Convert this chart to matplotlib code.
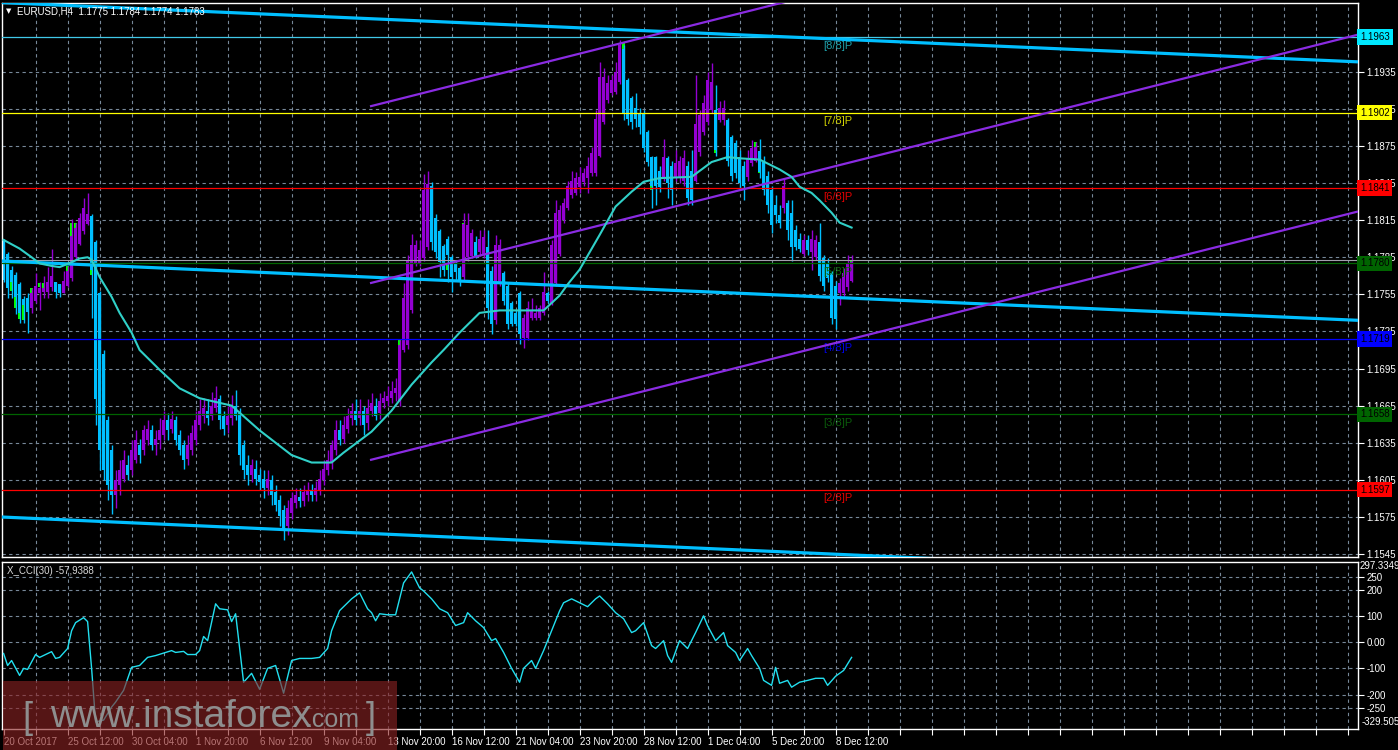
import numpy as np
import matplotlib.pyplot as plt
from matplotlib.patches import Rectangle

plt.rcParams['font.family'] = ['Liberation Sans', 'DejaVu Sans']

# EURUSD H4 candles (bar 0 = 20 Oct 2017)
bar_open = [
    1.1799, 1.1788, 1.1775, 1.1771, 1.1763, 1.1751, 1.1752, 1.1744, 1.1750, 1.1756,
    1.1757, 1.1757, 1.1761, 1.1765, 1.1763, 1.1756, 1.1762, 1.1768, 1.1785, 1.1796,
    1.1806, 1.1812, 1.1818, 1.1797, 1.1756, 1.1707, 1.1653, 1.1629, 1.1593, 1.1601,
    1.1606, 1.1617, 1.1613, 1.1621, 1.1633, 1.1629, 1.1637, 1.1645, 1.1633, 1.1637,
    1.1641, 1.1653, 1.1646, 1.1653, 1.1641, 1.1633, 1.1622, 1.1629, 1.1637, 1.1649,
    1.1657, 1.1661, 1.1657, 1.1663, 1.1670, 1.1657, 1.1649, 1.1655, 1.1665, 1.1659,
    1.1633, 1.1617, 1.1609, 1.1614, 1.1609, 1.1606, 1.1598, 1.1605, 1.1595, 1.1589,
    1.1581, 1.1568, 1.1578, 1.1586, 1.1591, 1.1588, 1.1593, 1.1597, 1.1593, 1.1597,
    1.1605, 1.1613, 1.1619, 1.1629, 1.1645, 1.1638, 1.1646, 1.1655, 1.1661, 1.1655,
    1.1661, 1.1651, 1.1661, 1.1665, 1.1659, 1.1667, 1.1669, 1.1671, 1.1675, 1.1669,
    1.1710, 1.1714, 1.1742, 1.1780, 1.1780, 1.1784, 1.1793, 1.1843, 1.1817, 1.1806,
    1.1794, 1.1800, 1.1785, 1.1780, 1.1776, 1.1769, 1.1785, 1.1786, 1.1797, 1.1789,
    1.1788, 1.1793, 1.1774, 1.1734, 1.1764, 1.1772, 1.1762, 1.1748, 1.1740, 1.1756,
    1.1720, 1.1720, 1.1736, 1.1736, 1.1736, 1.1740, 1.1756, 1.1748, 1.1764, 1.1788,
    1.1815, 1.1825, 1.1835, 1.1837, 1.1842, 1.1846, 1.1849, 1.1853, 1.1853, 1.1867,
    1.1894, 1.1912, 1.1918, 1.1919, 1.1927, 1.1953, 1.1928, 1.1914, 1.1906, 1.1902,
    1.1902, 1.1886, 1.1866, 1.1866, 1.1855, 1.1850, 1.1865, 1.1859, 1.1850, 1.1849,
    1.1847, 1.1859, 1.1855, 1.1847, 1.1870, 1.1886, 1.1894, 1.1904, 1.1904, 1.1896,
    1.1896, 1.1896, 1.1882, 1.1877, 1.1866, 1.1859, 1.1850, 1.1861, 1.1863, 1.1871,
    1.1863, 1.1851, 1.1839, 1.1827, 1.1819, 1.1825, 1.1829, 1.1821, 1.1807, 1.1800,
    1.1788, 1.1799, 1.1789, 1.1785, 1.1797, 1.1784, 1.1780, 1.1772, 1.1762, 1.1756,
    1.1756, 1.1761, 1.1766,
]
bar_close = [
    1.1767, 1.1760, 1.1765, 1.1753, 1.1740, 1.1746, 1.1741, 1.1756, 1.1762, 1.1760,
    1.1760, 1.1765, 1.1770, 1.1757, 1.1756, 1.1766, 1.1774, 1.1802, 1.1809, 1.1817,
    1.1825, 1.1820, 1.1775, 1.1670, 1.1629, 1.1613, 1.1601, 1.1593, 1.1605, 1.1613,
    1.1621, 1.1609, 1.1629, 1.1637, 1.1625, 1.1645, 1.1646, 1.1633, 1.1638, 1.1645,
    1.1653, 1.1645, 1.1654, 1.1637, 1.1629, 1.1621, 1.1633, 1.1643, 1.1653, 1.1661,
    1.1663, 1.1655, 1.1665, 1.1671, 1.1653, 1.1646, 1.1657, 1.1665, 1.1657, 1.1625,
    1.1613, 1.1609, 1.1617, 1.1606, 1.1603, 1.1598, 1.1606, 1.1593, 1.1585, 1.1576,
    1.1565, 1.1582, 1.1590, 1.1593, 1.1588, 1.1595, 1.1597, 1.1593, 1.1598, 1.1606,
    1.1614, 1.1621, 1.1633, 1.1645, 1.1637, 1.1649, 1.1657, 1.1661, 1.1653, 1.1661,
    1.1649, 1.1663, 1.1667, 1.1657, 1.1669, 1.1671, 1.1673, 1.1677, 1.1679, 1.1714,
    1.1752, 1.1782, 1.1795, 1.1795, 1.1791, 1.1839, 1.1844, 1.1797, 1.1789, 1.1781,
    1.1775, 1.1787, 1.1769, 1.1773, 1.1766, 1.1812, 1.1811, 1.1805, 1.1786, 1.1800,
    1.1801, 1.1744, 1.1731, 1.1795, 1.1795, 1.1750, 1.1731, 1.1731, 1.1731, 1.1723,
    1.1736, 1.1744, 1.1742, 1.1740, 1.1744, 1.1757, 1.1750, 1.1795, 1.1821, 1.1823,
    1.1829, 1.1843, 1.1847, 1.1849, 1.1850, 1.1853, 1.1859, 1.1869, 1.1897, 1.1931,
    1.1931, 1.1926, 1.1928, 1.1935, 1.1957, 1.1901, 1.1897, 1.1894, 1.1897, 1.1890,
    1.1873, 1.1862, 1.1843, 1.1843, 1.1842, 1.1866, 1.1845, 1.1839, 1.1861, 1.1863,
    1.1865, 1.1833, 1.1831, 1.1893, 1.1900, 1.1910, 1.1928, 1.1927, 1.1872, 1.1906,
    1.1906, 1.1863, 1.1851, 1.1853, 1.1845, 1.1843, 1.1865, 1.1873, 1.1874, 1.1854,
    1.1839, 1.1827, 1.1811, 1.1819, 1.1813, 1.1843, 1.1807, 1.1793, 1.1793, 1.1792,
    1.1799, 1.1791, 1.1800, 1.1799, 1.1770, 1.1762, 1.1768, 1.1736, 1.1735, 1.1764,
    1.1772, 1.1780, 1.1781,
]
bar_high = [
    1.1800, 1.1789, 1.1778, 1.1773, 1.1765, 1.1754, 1.1756, 1.1760, 1.1772, 1.1765,
    1.1770, 1.1777, 1.1792, 1.1765, 1.1763, 1.1774, 1.1778, 1.1816, 1.1813, 1.1821,
    1.1833, 1.1837, 1.1820, 1.1799, 1.1758, 1.1710, 1.1657, 1.1633, 1.1613, 1.1621,
    1.1629, 1.1625, 1.1637, 1.1645, 1.1638, 1.1649, 1.1653, 1.1649, 1.1645, 1.1655,
    1.1661, 1.1659, 1.1661, 1.1657, 1.1645, 1.1637, 1.1641, 1.1649, 1.1661, 1.1670,
    1.1671, 1.1670, 1.1676, 1.1681, 1.1674, 1.1661, 1.1665, 1.1674, 1.1678, 1.1663,
    1.1637, 1.1625, 1.1622, 1.1621, 1.1614, 1.1613, 1.1613, 1.1609, 1.1601, 1.1593,
    1.1585, 1.1589, 1.1595, 1.1598, 1.1598, 1.1601, 1.1603, 1.1602, 1.1604, 1.1613,
    1.1621, 1.1629, 1.1637, 1.1653, 1.1653, 1.1657, 1.1663, 1.1667, 1.1670, 1.1670,
    1.1665, 1.1670, 1.1675, 1.1671, 1.1675, 1.1677, 1.1681, 1.1685, 1.1687, 1.1718,
    1.1764, 1.1787, 1.1804, 1.1799, 1.1799, 1.1852, 1.1855, 1.1846, 1.1820, 1.1808,
    1.1796, 1.1802, 1.1787, 1.1782, 1.1778, 1.1821, 1.1821, 1.1808, 1.1802, 1.1807,
    1.1807, 1.1807, 1.1778, 1.1803, 1.1800, 1.1774, 1.1764, 1.1750, 1.1742, 1.1758,
    1.1739, 1.1750, 1.1752, 1.1746, 1.1746, 1.1773, 1.1758, 1.1799, 1.1831, 1.1827,
    1.1833, 1.1847, 1.1855, 1.1854, 1.1858, 1.1857, 1.1866, 1.1874, 1.1904, 1.1943,
    1.1938, 1.1932, 1.1932, 1.1943, 1.1961, 1.1957, 1.1930, 1.1915, 1.1918, 1.1906,
    1.1904, 1.1888, 1.1867, 1.1867, 1.1859, 1.1881, 1.1867, 1.1863, 1.1872, 1.1867,
    1.1872, 1.1863, 1.1872, 1.1932, 1.1904, 1.1916, 1.1935, 1.1942, 1.1924, 1.1911,
    1.1912, 1.1898, 1.1884, 1.1880, 1.1872, 1.1863, 1.1872, 1.1880, 1.1878, 1.1881,
    1.1867, 1.1855, 1.1843, 1.1835, 1.1827, 1.1849, 1.1831, 1.1831, 1.1811, 1.1805,
    1.1803, 1.1803, 1.1807, 1.1803, 1.1813, 1.1787, 1.1784, 1.1774, 1.1766, 1.1768,
    1.1776, 1.1787, 1.1787,
]
bar_low = [
    1.1765, 1.1752, 1.1752, 1.1739, 1.1732, 1.1732, 1.1724, 1.1740, 1.1748, 1.1742,
    1.1752, 1.1752, 1.1758, 1.1752, 1.1753, 1.1756, 1.1761, 1.1766, 1.1783, 1.1795,
    1.1804, 1.1811, 1.1736, 1.1649, 1.1613, 1.1605, 1.1589, 1.1577, 1.1582, 1.1593,
    1.1603, 1.1605, 1.1609, 1.1619, 1.1619, 1.1625, 1.1633, 1.1629, 1.1625, 1.1630,
    1.1637, 1.1637, 1.1643, 1.1633, 1.1625, 1.1614, 1.1617, 1.1625, 1.1633, 1.1645,
    1.1651, 1.1649, 1.1653, 1.1660, 1.1646, 1.1641, 1.1643, 1.1649, 1.1653, 1.1617,
    1.1606, 1.1601, 1.1603, 1.1601, 1.1597, 1.1590, 1.1593, 1.1585, 1.1580, 1.1568,
    1.1556, 1.1560, 1.1573, 1.1582, 1.1583, 1.1584, 1.1588, 1.1588, 1.1588, 1.1593,
    1.1601, 1.1609, 1.1614, 1.1625, 1.1633, 1.1635, 1.1643, 1.1649, 1.1649, 1.1649,
    1.1641, 1.1645, 1.1657, 1.1653, 1.1654, 1.1663, 1.1665, 1.1667, 1.1669, 1.1665,
    1.1708, 1.1711, 1.1740, 1.1778, 1.1778, 1.1782, 1.1791, 1.1791, 1.1784, 1.1769,
    1.1770, 1.1765, 1.1757, 1.1766, 1.1762, 1.1766, 1.1782, 1.1784, 1.1784, 1.1786,
    1.1784, 1.1735, 1.1723, 1.1731, 1.1762, 1.1746, 1.1727, 1.1729, 1.1729, 1.1715,
    1.1712, 1.1718, 1.1734, 1.1734, 1.1734, 1.1738, 1.1748, 1.1746, 1.1762, 1.1786,
    1.1813, 1.1823, 1.1833, 1.1835, 1.1837, 1.1843, 1.1837, 1.1851, 1.1851, 1.1866,
    1.1893, 1.1910, 1.1916, 1.1917, 1.1925, 1.1896, 1.1892, 1.1889, 1.1890, 1.1885,
    1.1870, 1.1859, 1.1825, 1.1827, 1.1838, 1.1847, 1.1833, 1.1827, 1.1847, 1.1845,
    1.1843, 1.1827, 1.1827, 1.1846, 1.1867, 1.1884, 1.1892, 1.1902, 1.1867, 1.1894,
    1.1892, 1.1859, 1.1847, 1.1849, 1.1839, 1.1831, 1.1847, 1.1859, 1.1862, 1.1849,
    1.1835, 1.1821, 1.1805, 1.1813, 1.1809, 1.1821, 1.1799, 1.1782, 1.1791, 1.1789,
    1.1786, 1.1787, 1.1775, 1.1783, 1.1766, 1.1758, 1.1765, 1.1731, 1.1727, 1.1746,
    1.1753, 1.1758, 1.1765,
]

# lime parts of the underlying candles that show past the coloured bodies
lime_bar = [2, 3, 4, 5, 7, 9, 10, 15, 16, 17, 18, 19, 20, 21, 22, 23, 99, 100, 101, 103,
            105, 111, 115, 116, 117, 119, 120, 121, 126, 128, 130, 134, 136, 137, 138,
            139, 141, 143, 147, 148, 151, 154, 155, 157, 159, 161, 162, 175, 176, 178,
            179, 180, 188, 189, 195, 199, 200, 202, 204, 207, 208, 212]
lime_lo = [1.1758, 1.1744, 1.1735, 1.1734, 1.1756, 1.1761, 1.1760, 1.1756, 1.1774, 1.1802,
           1.1809, 1.1813, 1.1820, 1.1813, 1.1771, 1.1694, 1.1710, 1.1744, 1.1771, 1.1793,
           1.1827, 1.1775, 1.1804, 1.1807, 1.1799, 1.1789, 1.1793, 1.1744, 1.1731, 1.1731,
           1.1720, 1.1741, 1.1750, 1.1785, 1.1807, 1.1821, 1.1833, 1.1843, 1.1859, 1.1883,
           1.1920, 1.1949, 1.1918, 1.1894, 1.1890, 1.1869, 1.1839, 1.1902, 1.1916, 1.1869,
           1.1902, 1.1902, 1.1874, 1.1853, 1.1835, 1.1792, 1.1794, 1.1793, 1.1770, 1.1736,
           1.1736, 1.1780]
lime_hi = [1.1765, 1.1753, 1.1740, 1.1746, 1.1760, 1.1764, 1.1764, 1.1761, 1.1778, 1.1813,
           1.1813, 1.1817, 1.1825, 1.1820, 1.1775, 1.1716, 1.1718, 1.1752, 1.1783, 1.1795,
           1.1839, 1.1779, 1.1813, 1.1811, 1.1805, 1.1800, 1.1801, 1.1753, 1.1736, 1.1740,
           1.1736, 1.1744, 1.1756, 1.1795, 1.1821, 1.1823, 1.1839, 1.1849, 1.1869, 1.1897,
           1.1926, 1.1957, 1.1958, 1.1898, 1.1902, 1.1877, 1.1845, 1.1910, 1.1928, 1.1880,
           1.1906, 1.1906, 1.1878, 1.1863, 1.1842, 1.1796, 1.1799, 1.1799, 1.1778, 1.1753,
           1.1754, 1.1783]

# moving average (turquoise line), sampled at these bars
ma_bar = [0, 4, 7, 9, 12, 14, 17, 19, 21, 22, 24, 27, 29, 32, 34, 39, 44, 49, 57, 64,
          72, 77, 82, 85, 92, 97, 102, 107, 110, 114, 119, 124, 135, 139, 141, 144,
          149, 153, 157, 160, 164, 172, 177, 181, 184, 189, 194, 197, 199, 202, 204,
          207, 209, 212]
ma_val = [1.1799, 1.1792, 1.1785, 1.1780, 1.1778, 1.1777, 1.1781, 1.1784, 1.1785, 1.1783,
          1.1769, 1.1753, 1.1740, 1.1724, 1.1710, 1.1694, 1.1679, 1.1671, 1.1665, 1.1645,
          1.1625, 1.1619, 1.1619, 1.1627, 1.1644, 1.1661, 1.1682, 1.1700, 1.1710, 1.1724,
          1.1740, 1.1742, 1.1742, 1.1754, 1.1763, 1.1775, 1.1803, 1.1826, 1.1838, 1.1846,
          1.1849, 1.1850, 1.1862, 1.1866, 1.1865, 1.1864, 1.1856, 1.1850, 1.1842, 1.1837,
          1.1831, 1.1821, 1.1813, 1.1809]

# X_CCI(30)
cci_bar = [0, 1, 2, 4, 5, 6, 8, 9, 12, 13, 14, 16, 17, 18, 20, 21, 22, 23, 25, 27,
           28, 30, 32, 34, 36, 38, 42, 43, 45, 46, 48, 49, 50, 51, 53, 54, 56, 57, 58, 60,
           62, 64, 66, 68, 70, 72, 74, 77, 79, 81, 82, 84, 87, 89, 91, 92, 93, 94, 96, 98,
           100, 102, 104, 105, 107, 109, 111, 113, 115, 116, 118, 120, 122, 123, 125, 127,
           129, 130, 132, 133, 135, 137, 139, 140, 142, 144, 146, 148, 149, 151, 153, 155,
           157, 158, 160, 162, 163, 165, 166, 167, 169, 171, 173, 175, 176, 178, 180, 181,
           183, 184, 186, 187, 189, 190, 192, 193, 194, 196, 197, 199, 201, 203, 205, 206,
           208, 210, 212]
cci_val = [-43, -89, -70, -127, -100, -104, -47, -58, -36, -62, -58, -24, 44, 75, 94, 79,
           -100, -305, -298, -248, -229, -184, -96, -89, -58, -51, -32, -39, -35, -47, -47,
           -32, 22, 6, 147, 128, 124, 79, 109, -153, -119, -180, -100, -89, -195, -70, -62,
           -62, -58, -24, 44, 121, 166, 189, 128, 113, 82, 109, 105, 105, 227, 269, 208,
           196, 166, 128, 113, 64, 75, 113, 82, 56, 6, 14, -39, -100, -153, -100, -70,
           -100, -32, 44, 120, 151, 166, 151, 136, 166, 177, 147, 113, 90, 37, 44, 75, -13,
           -24, 6, -51, -77, 6, -24, 37, 101, 63, 6, 37, -13, -39, -70, -24, -51, -100,
           -146, -165, -96, -157, -146, -172, -153, -146, -138, -138, -165, -130, -108, -58]

# Murrey math levels
murrey_level = [1.1963, 1.1902, 1.1841, 1.1780, 1.1719, 1.1658, 1.1597]
murrey_name = ['[8/8]P', '[7/8]P', '[6/8]P', '[5/8]P', '[4/8]P', '[3/8]P', '[2/8]P']
murrey_line = ['#40c8e8', '#ffff00', '#ff0000', '#006400', '#0000ff', '#006400', '#ff0000']
murrey_box = ['#00e8ff', '#ffff00', '#ff0000', '#006400', '#0000ff', '#006400', '#ff0000']
murrey_text = ['#1e9ea8', '#d0d000', '#e00000', '#0b6b0b', '#0000e0', '#0b5b0b', '#e00000']
bid_price = 1.1783

# hand-drawn channels (bar, price at both ends)
blue_x = [-0.9, 338.6]
blue_top = [1.1991, 1.1943]
blue_mid = [1.1782, 1.1734]
blue_low = [1.1575, 1.1526]
violet_x = [91.6, 338.6]
violet_top = [1.1907, 1.2108]
violet_mid = [1.1764, 1.1965]
violet_low = [1.1621, 1.1822]

price_ticks = [1.1545, 1.1575, 1.1605, 1.1635, 1.1665, 1.1695, 1.1725, 1.1755,
               1.1785, 1.1815, 1.1845, 1.1875, 1.1905, 1.1935]
cci_ticks = [250, 200, 100, 0, -100, -200, -250]
cci_tick_labels = ['250', '200', '100', '0.00', '-100', '-200', '-250']
date_labels = ['20 Oct 2017', '25 Oct 12:00', '30 Oct 04:00', '1 Nov 20:00', '6 Nov 12:00',
               '9 Nov 04:00', '13 Nov 20:00', '16 Nov 12:00', '21 Nov 04:00',
               '23 Nov 20:00', '28 Nov 12:00', '1 Dec 04:00', '5 Dec 20:00', '8 Dec 12:00']

W, H = 1398, 750
fig = plt.figure(figsize=(W / 100, H / 100), dpi=100, facecolor='black')


def panel(left, top, right, bottom):
    a = fig.add_axes([left / W, 1 - bottom / H, (right - left) / W, (bottom - top) / H])
    a.set_facecolor('black')
    for s in a.spines.values():
        s.set_color('white')
        s.set_linewidth(1)
    a.set_xlim(-0.4, 338.6)
    return a


ax = panel(2, 3, 1358, 557)
ax2 = panel(2, 562, 1358, 729)
ax.set_ylim(1.15426, 1.19906)
ax2.set_ylim(-332, 307)

# dashed grid
grid_kw = dict(color='#778899', lw=0.8, dashes=(3, 3), zorder=1)
for v in range(8, 339, 8):
    ax.axvline(v, **grid_kw)
    ax2.axvline(v, **grid_kw)
for p in price_ticks:
    ax.axhline(p, **grid_kw)
for c in cci_ticks:
    ax2.axhline(c, **grid_kw)

# candles: lime underneath, then the violet / blue ones
lo_l = np.array(lime_lo)
ax.bar(lime_bar, np.array(lime_hi) - lo_l, bottom=lo_l, width=0.75, color='#00ff00',
       lw=0, zorder=1.8)
o = np.array(bar_open)
c = np.array(bar_close)
xb = np.arange(len(c))
col = np.where(c >= o, '#9400d3', '#00bfff')
ax.vlines(xb, bar_low, bar_high, colors=col, lw=1, zorder=2)
ax.bar(xb, c - o, bottom=o, width=0.75, color=col, lw=0, zorder=2)

# levels
for lvl, lc, tc, name, bc in zip(murrey_level, murrey_line, murrey_text, murrey_name, murrey_box):
    ax.axhline(lvl, color=lc, lw=0.9, zorder=3)
    ax.text(208.6, lvl - 0.0003, name, color=tc, fontsize=8, ha='center', va='top', zorder=4)
    ax.text(1.0015, lvl, f'{lvl:.4f}', transform=ax.get_yaxis_transform(), color='black',
            fontsize=7, ha='left', va='center', clip_on=False, zorder=6,
            bbox=dict(boxstyle='square,pad=0.28', fc=bc, ec='none'))
ax.axhline(bid_price, color='#a0a0aa', lw=0.8, zorder=3)

# channels and MA
for yy in (blue_top, blue_mid, blue_low):
    ax.plot(blue_x, yy, color='#00bfff', lw=2.3, zorder=4, solid_capstyle='butt')
for yy in (violet_top, violet_mid, violet_low):
    ax.plot(violet_x, yy, color='#8a2be2', lw=1.6, zorder=4, solid_capstyle='butt')
ax.plot(ma_bar, ma_val, color='#30d0c8', lw=1.5, zorder=4)

ax.yaxis.tick_right()
ax.set_yticks(price_ticks)
ax.set_yticklabels([f'{p:.4f}' for p in price_ticks])
ax.tick_params(axis='y', colors='white', labelsize=7, length=4, width=0.8, pad=2)
ax.tick_params(axis='x', bottom=False, labelbottom=False)

# CCI panel
ax2.plot(cci_bar, cci_val, color='#22e0f0', lw=1, zorder=3)
ax2.yaxis.tick_right()
ax2.set_yticks(cci_ticks)
ax2.set_yticklabels(cci_tick_labels)
ax2.tick_params(axis='y', colors='white', labelsize=7, length=4, width=0.8, pad=2)
ax2.set_xticks(np.arange(0, 339, 8), minor=True)
ax2.set_xticks(np.arange(0, 16 * len(date_labels), 16))
ax2.set_xticklabels(date_labels, ha='left')
ax2.tick_params(axis='x', which='both', colors='white', labelsize=7, length=4, width=0.8, pad=2)


def ftext(x, y, s, **kw):
    return fig.text(x / W, 1 - y / H, s, **kw)


ftext(1360, 566, '297.3349', color='white', fontsize=7, va='center')
ftext(1362, 722, '-329.505', color='white', fontsize=7, va='center')
ftext(6, 11, '\u25bc', color='white', fontsize=5, va='center',
      family=['DejaVu Sans'])
ftext(17, 11, 'EURUSD,H4  1.1775 1.1784 1.1774 1.1783', color='white', fontsize=7, va='center')
ftext(7, 571, 'X_CCI(30) -57,9388', color='#d8d8d8', fontsize=7, va='center')

# watermark
fig.patches.append(Rectangle((3 / W, 0), 394 / W, 69 / H, transform=fig.transFigure,
                             facecolor='#8b2222', alpha=0.62, lw=0, zorder=10))
wm = dict(color='#8e8e8e', va='baseline', zorder=11)
ftext(22, 728, '[', fontsize=26, **wm)
ftext(50, 727, 'www.instaforex', fontsize=28, **wm)
ftext(306, 727, '.com', fontsize=18, **wm)
ftext(366, 728, ']', fontsize=26, **wm)

fig.savefig('out.png', dpi=100, facecolor='black')
